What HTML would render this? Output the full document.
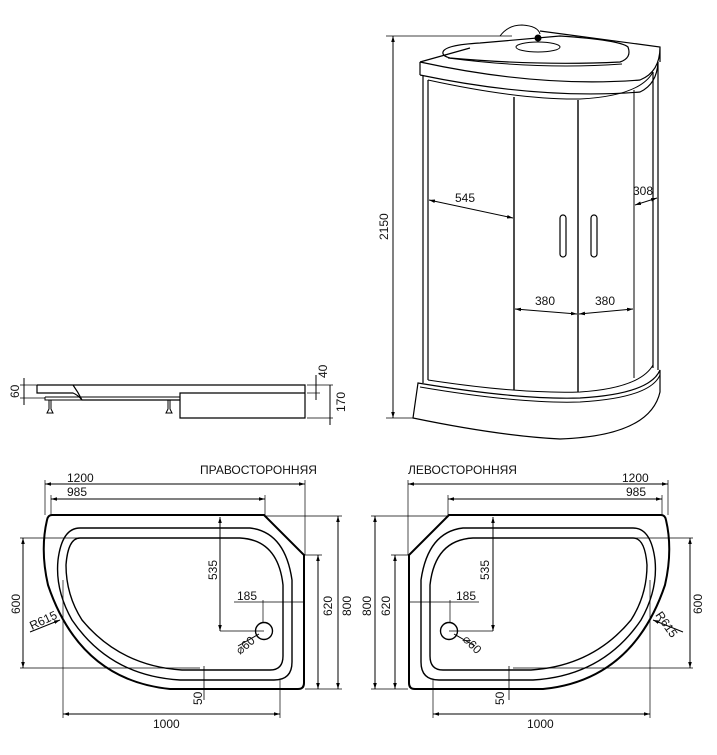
<!DOCTYPE html>
<html><head><meta charset="utf-8"><style>
html,body{margin:0;padding:0;background:#fff;width:717px;height:755px;overflow:hidden}
svg text{font-family:"Liberation Sans",sans-serif;font-size:12px;fill:#111}
</style></head><body>
<svg width="717" height="755" viewBox="0 0 717 755" xmlns="http://www.w3.org/2000/svg">
<defs>
<marker id="a" viewBox="0 0 10 10" refX="10" refY="5" markerWidth="6" markerHeight="6" orient="auto-start-reverse"><path d="M0,2 L10,5 L0,8 z" fill="#000"/></marker>
</defs>
<g fill="none" stroke="#000" stroke-width="1">
<!-- ===== Cabin ===== -->
<line x1="386" y1="36" x2="512" y2="36" stroke-width="0.8"/>
<line x1="386" y1="418" x2="414" y2="418" stroke-width="0.8"/>
<line x1="393" y1="36" x2="393" y2="418" marker-start="url(#a)" marker-end="url(#a)"/>
<!-- roof -->
<path d="M420,62 Q540,88 640,80 Q660,72 660,47 M420,75 Q540,100 640,92 Q657,84 658,62 M420,62 L420,75 M420,62 L470,48 M540,31 L660,47 L660,62" stroke-width="1.2"/>
<path d="M443,52 Q445,45 480,43 L560,36 Q620,40 628,47 Q632,58 620,62 Q540,66 450,58 Q442,56 443,52 Z" stroke-width="1.2"/>
<path d="M448,58 Q540,70 622,64"/>
<ellipse cx="538" cy="47" rx="22" ry="5"/>
<path d="M500,36 Q508,25 522,25 Q538,26 540,34"/>
<circle cx="538" cy="38" r="3" fill="#000"/>
<path d="M423,76 L423,383 M428,80 L428,380" stroke-width="1.2"/>
<path d="M658,62 L658,370 M653,72 L653,368" stroke-width="1.2"/>
<path d="M428,80 Q520,100 580,99 Q640,96 653,72"/>
<path d="M428,380 Q520,394 580,392 Q640,388 653,365"/>
<line x1="514" y1="97" x2="514" y2="390" stroke-width="1.4"/>
<line x1="578" y1="100" x2="578" y2="392" stroke-width="1.4"/>
<line x1="634" y1="90" x2="634" y2="378"/>
<rect x="560" y="215" width="6" height="42" rx="3" stroke-width="1.2"/>
<rect x="591" y="215" width="6" height="42" rx="3" stroke-width="1.2"/>
<path d="M418,383 Q520,400 580,398 Q650,394 660,370 L660,392 Q650,436 560,439 Q500,436 413,418 Z" stroke-width="1.2"/>
<path d="M420,387 Q520,404 580,402 Q650,398 660,375"/>
<line x1="429" y1="200" x2="513" y2="218" marker-start="url(#a)" marker-end="url(#a)"/>
<line x1="515" y1="309" x2="577" y2="314" marker-start="url(#a)" marker-end="url(#a)"/>
<line x1="579" y1="314" x2="633" y2="309" marker-start="url(#a)" marker-end="url(#a)"/>
<line x1="635" y1="205" x2="657" y2="198" marker-start="url(#a)" marker-end="url(#a)"/>

<!-- ===== Side profile ===== -->
<path d="M37,385 L305,385 L305,393 L180,393 L180,418 L305,418 L305,393 M37,385 L37,393 L73,393 Q78,395 82,400 L180,400 M73,385 Q78,392 82,400" stroke-width="1.2"/>
<path d="M45,397 L180,397 M45,397 L45,400 L180,400"/>
<path d="M49,400 L49,409 L47,413 L53,413 L51,409 L51,400 M168,400 L168,409 L166,413 L172,413 L170,409 L170,400"/>
<line x1="24" y1="378" x2="24" y2="405"/><line x1="20" y1="385" x2="37" y2="385" stroke-width="0.7"/><line x1="20" y1="398" x2="45" y2="398" stroke-width="0.7"/>
<line x1="316" y1="375" x2="316" y2="400"/><line x1="307" y1="385" x2="333" y2="385" stroke-width="0.7"/><line x1="307" y1="393" x2="320" y2="393" stroke-width="0.7"/>
<line x1="330" y1="385" x2="330" y2="425"/><line x1="307" y1="418" x2="333" y2="418" stroke-width="0.7"/>

<!-- ===== Left tray ===== -->
<g>
<path d="M52,515 L264,515 L304,555 L304,683 Q304,689 298,689 L170,689 Q80,680 48,585 Q40,550 47,520 Q48,515 52,515 Z" stroke-width="2"/>
<path d="M80,528 L250,528 Q285,532 292,580 L292,662 Q292,680 274,680 L180,680 Q110,676 72,620 Q55,590 58,560 Q62,528 80,528 Z" stroke-width="1.4"/>
<path d="M80,538 L240,538 Q278,540 283,585 L283,656 Q283,670 270,670 L182,670 Q120,666 82,620 Q66,595 66,565 Q68,538 80,538 Z" stroke-width="1.4"/>
<circle cx="264" cy="631" r="8.5" stroke-width="1.4"/>
<line x1="238" y1="646" x2="259" y2="634"/>
</g>
<line x1="45" y1="484" x2="305" y2="484" marker-start="url(#a)" marker-end="url(#a)"/>
<line x1="45" y1="480" x2="45" y2="515" stroke-width="0.7"/><line x1="305" y1="480" x2="305" y2="555" stroke-width="0.7"/>
<line x1="51" y1="499" x2="265" y2="499" marker-start="url(#a)" marker-end="url(#a)"/>
<line x1="51" y1="495" x2="51" y2="515" stroke-width="0.7"/><line x1="265" y1="495" x2="265" y2="515" stroke-width="0.7"/>
<line x1="23" y1="538" x2="23" y2="668" marker-start="url(#a)" marker-end="url(#a)"/>
<line x1="20" y1="538" x2="80" y2="538" stroke-width="0.7"/><line x1="20" y1="668" x2="200" y2="668" stroke-width="0.7"/>
<line x1="318" y1="555" x2="318" y2="689" marker-start="url(#a)" marker-end="url(#a)"/>
<line x1="305" y1="555" x2="322" y2="555" stroke-width="0.7"/><line x1="305" y1="689" x2="342" y2="689" stroke-width="0.7"/>
<line x1="338" y1="516" x2="338" y2="689" marker-start="url(#a)" marker-end="url(#a)"/>
<line x1="264" y1="516" x2="342" y2="516" stroke-width="0.7"/>
<line x1="220" y1="517" x2="220" y2="631" marker-start="url(#a)" marker-end="url(#a)"/>
<line x1="220" y1="631" x2="264" y2="631" stroke-width="0.7"/>
<line x1="234" y1="602" x2="304" y2="602" stroke-width="0.7"/>
<line x1="263" y1="600" x2="263" y2="622" stroke-width="0.7"/>
<line x1="204" y1="666" x2="204" y2="700" stroke-width="0.8"/>
<line x1="63" y1="714" x2="280" y2="714" marker-start="url(#a)" marker-end="url(#a)"/>
<line x1="63" y1="580" x2="63" y2="718" stroke-width="0.7"/><line x1="280" y1="680" x2="280" y2="718" stroke-width="0.7"/>
<line x1="30" y1="632" x2="60" y2="620" marker-end="url(#a)"/>

<!-- ===== Right tray (mirror) ===== -->
<g transform="translate(713,0) scale(-1,1)">
<path d="M52,515 L264,515 L304,555 L304,683 Q304,689 298,689 L170,689 Q80,680 48,585 Q40,550 47,520 Q48,515 52,515 Z" stroke-width="2"/>
<path d="M80,528 L250,528 Q285,532 292,580 L292,662 Q292,680 274,680 L180,680 Q110,676 72,620 Q55,590 58,560 Q62,528 80,528 Z" stroke-width="1.4"/>
<path d="M80,538 L240,538 Q278,540 283,585 L283,656 Q283,670 270,670 L182,670 Q120,666 82,620 Q66,595 66,565 Q68,538 80,538 Z" stroke-width="1.4"/>
<circle cx="264" cy="631" r="8.5" stroke-width="1.4"/>
<line x1="238" y1="646" x2="259" y2="634"/>
<line x1="45" y1="484" x2="305" y2="484" marker-start="url(#a)" marker-end="url(#a)"/>
<line x1="45" y1="480" x2="45" y2="515" stroke-width="0.7"/><line x1="305" y1="480" x2="305" y2="555" stroke-width="0.7"/>
<line x1="51" y1="499" x2="265" y2="499" marker-start="url(#a)" marker-end="url(#a)"/>
<line x1="51" y1="495" x2="51" y2="515" stroke-width="0.7"/><line x1="265" y1="495" x2="265" y2="515" stroke-width="0.7"/>
<line x1="23" y1="538" x2="23" y2="668" marker-start="url(#a)" marker-end="url(#a)"/>
<line x1="20" y1="538" x2="80" y2="538" stroke-width="0.7"/><line x1="20" y1="668" x2="200" y2="668" stroke-width="0.7"/>
<line x1="318" y1="555" x2="318" y2="689" marker-start="url(#a)" marker-end="url(#a)"/>
<line x1="305" y1="555" x2="322" y2="555" stroke-width="0.7"/><line x1="305" y1="689" x2="342" y2="689" stroke-width="0.7"/>
<line x1="338" y1="516" x2="338" y2="689" marker-start="url(#a)" marker-end="url(#a)"/>
<line x1="264" y1="516" x2="342" y2="516" stroke-width="0.7"/>
<line x1="220" y1="517" x2="220" y2="631" marker-start="url(#a)" marker-end="url(#a)"/>
<line x1="220" y1="631" x2="264" y2="631" stroke-width="0.7"/>
<line x1="234" y1="602" x2="304" y2="602" stroke-width="0.7"/>
<line x1="263" y1="600" x2="263" y2="622" stroke-width="0.7"/>
<line x1="204" y1="666" x2="204" y2="700" stroke-width="0.8"/>
<line x1="63" y1="714" x2="280" y2="714" marker-start="url(#a)" marker-end="url(#a)"/>
<line x1="63" y1="580" x2="63" y2="718" stroke-width="0.7"/><line x1="280" y1="680" x2="280" y2="718" stroke-width="0.7"/>
<line x1="30" y1="632" x2="60" y2="620" marker-end="url(#a)"/>
</g>
</g>

<text x="388" y="240" transform="rotate(-90 388 240)">2150</text>
<text x="455" y="202">545</text>
<text x="535" y="305">380</text>
<text x="595" y="305">380</text>
<text x="633" y="195">308</text>
<text x="19" y="398" transform="rotate(-90 19 398)">60</text>
<text x="327" y="378" transform="rotate(-90 327 378)">40</text>
<text x="345" y="412" transform="rotate(-90 345 412)">170</text>

<text x="200" y="474">ПРАВОСТОРОННЯЯ</text>
<text x="67" y="482">1200</text>
<text x="67" y="496">985</text>
<text x="20" y="614" transform="rotate(-90 20 614)">600</text>
<text x="332" y="616" transform="rotate(-90 332 616)">620</text>
<text x="351" y="616" transform="rotate(-90 351 616)">800</text>
<text x="217" y="580" transform="rotate(-90 217 580)">535</text>
<text x="237" y="600">185</text>
<text x="202" y="705" transform="rotate(-90 202 705)">50</text>
<text x="153" y="728">1000</text>
<text x="32" y="630" transform="rotate(-25 32 630)">R615</text>
<text x="240" y="655" transform="rotate(-40 240 655)">⌀60</text>

<text x="408" y="474">ЛЕВОСТОРОННЯЯ</text>
<text x="622" y="482">1200</text>
<text x="626" y="496">985</text>
<text x="702" y="614" transform="rotate(-90 702 614)">600</text>
<text x="390" y="616" transform="rotate(-90 390 616)">620</text>
<text x="371" y="616" transform="rotate(-90 371 616)">800</text>
<text x="489" y="580" transform="rotate(-90 489 580)">535</text>
<text x="456" y="600">185</text>
<text x="504" y="705" transform="rotate(-90 504 705)">50</text>
<text x="527" y="728">1000</text>
<text x="655" y="615" transform="rotate(55 655 615)">R615</text>
<text x="462" y="640" transform="rotate(45 462 640)">⌀60</text>
</svg>
</body></html>
